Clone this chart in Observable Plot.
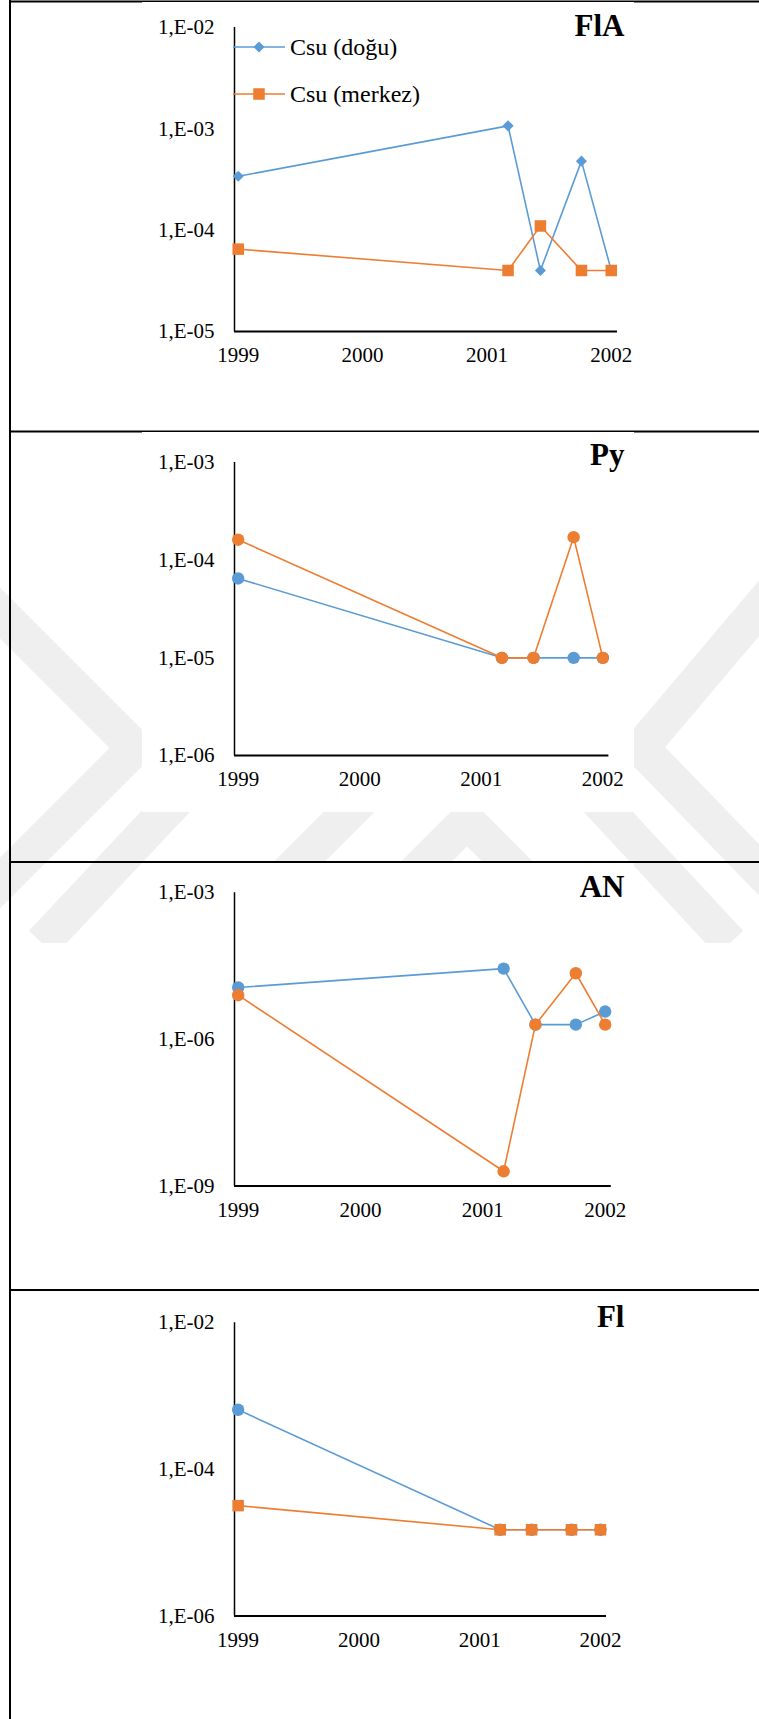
<!DOCTYPE html>
<html>
<head>
<meta charset="utf-8">
<script src="https://cdn.jsdelivr.net/npm/d3@7"></script>
<script src="https://cdn.jsdelivr.net/npm/@observablehq/plot@0.6"></script>
<style>
  html, body { margin: 0; padding: 0; background: #fff; }
  #page {
    position: relative; width: 759px; height: 1719px; overflow: hidden;
    font-family: "Liberation Serif", "Times New Roman", serif; color: #000;
  }
  #page > svg.backdrop { position: absolute; left: 0; top: 0; }
  .panel { position: absolute; left: 142px; width: 492px; height: 380px; background: #fff; }
  .panel svg { display: block; }
  .legend { position: absolute; font-size: 24px; line-height: 1; white-space: nowrap; }
  .legend .row { position: absolute; left: 0; height: 24px; display: flex; align-items: center; }
  .legend .row svg { display: block; margin-right: 5px; }
</style>
</head>
<body>
<div id="page"></div>
<script>
// Sampling dates (decimal years) shared by every panel
const sampleYears = [1999, 2001.17, 2001.43, 2001.76, 2002];
const yearTicks = [1999, 2000, 2001, 2002];
const seriesNames = ["Csu (doğu)", "Csu (merkez)"];
const seriesColors = ["#5B9BD5", "#ED7D31"];

// FlA
const flaDogu   = [3.4e-4, 1.07e-3, 4.0e-5, 4.8e-4, 4.0e-5];
const flaMerkez = [6.5e-5, 4.0e-5, 1.1e-4, 4.0e-5, 4.0e-5];
const flaTicks  = [1e-2, 1e-3, 1e-4, 1e-5];
// Py
const pyDogu    = [6.5e-5, 1.0e-5, 1.0e-5, 1.0e-5, 1.0e-5];
const pyMerkez  = [1.62e-4, 1.0e-5, 1.0e-5, 1.72e-4, 1.0e-5];
const pyTicks   = [1e-3, 1e-4, 1e-5, 1e-6];
// AN
const anDogu    = [1.15e-5, 2.8e-5, 2.0e-6, 2.0e-6, 3.7e-6];
const anMerkez  = [8.0e-6, 2.0e-9, 2.0e-6, 2.25e-5, 2.0e-6];
const anTicks   = [1e-3, 1e-6, 1e-9];
// Fl
const flDogu    = [6.5e-4, 1.5e-5, 1.5e-5, 1.5e-5, 1.5e-5];
const flMerkez  = [3.2e-5, 1.5e-5, 1.5e-5, 1.5e-5, 1.5e-5];
const flTicks   = [1e-2, 1e-4, 1e-6];

const panelTitles = ["FlA", "Py", "AN", "Fl"];

// Layout of each table cell (page pixels)
const panels = [
  { title: panelTitles[0], dogu: flaDogu, merkez: flaMerkez, ticks: flaTicks,
    top: 2, frameTop: 27, frameBottom: 331, frameRight: 617, symbols: ["diamond2", "square"], titleDy: -1.5, legend: true },
  { title: panelTitles[1], dogu: pyDogu, merkez: pyMerkez, ticks: pyTicks,
    top: 432, frameTop: 462, frameBottom: 755, frameRight: 608.4, symbols: ["circle", "circle"], titleDy: -7 },
  { title: panelTitles[2], dogu: anDogu, merkez: anMerkez, ticks: anTicks,
    top: 862.5, frameTop: 891.7, frameBottom: 1185, frameRight: 610.8, symbols: ["circle", "circle"], titleDy: -6 },
  { title: panelTitles[3], dogu: flDogu, merkez: flMerkez, ticks: flTicks,
    top: 1290.5, frameTop: 1321.7, frameBottom: 1615, frameRight: 606, symbols: ["circle", "square"], titleDy: -6 }
];

const symbolRadius = { circle: 6.2, square: 6.5, diamond2: 5.0 };
const panelLeft = 142, panelWidth = 492, panelHeight = 380, axisX = 234, titleRight = 624;
const xDomain = [1998.97, 2002.05];

const page = document.getElementById("page");

// Backdrop: faint page watermark and the table rules
const backdrop = d3.select(page).append("svg")
  .attr("class", "backdrop").attr("width", 759).attr("height", 1719);
backdrop.append("defs").append("clipPath").attr("id", "wmclip")
  .append("rect").attr("x", 0).attr("y", 573).attr("width", 759).attr("height", 370);
const wmBands = [
  [[42, 943], [388, 575], [730, 943]],
  [[-40, 573], [135, 748], [-60, 943]],
  [[800, 560], [641, 748], [830, 943]],
  [[345, 943], [467, 821], [589, 943]],
  [[400, 761], [218, 943]]
];
backdrop.append("g").attr("clip-path", "url(#wmclip)")
  .selectAll("path").data(wmBands).join("path")
  .attr("d", d3.line())
  .attr("fill", "none").attr("stroke", "#efefef").attr("stroke-width", 36)
  .attr("stroke-linejoin", "miter");
const rules = backdrop.append("g").attr("stroke", "#000").attr("stroke-width", 2);
rules.append("line").attr("x1", 10).attr("x2", 10).attr("y1", 0).attr("y2", 1719);
[1.5, 431.5, 862, 1290].forEach(y =>
  rules.append("line").attr("x1", 9).attr("x2", 759).attr("y1", y).attr("y2", y));

const fmtE = d => "1,E-" + String(-Math.round(Math.log10(d))).padStart(2, "0");

panels.forEach(p => {
  const rows = [];
  sampleYears.forEach((year, i) => {
    rows.push({ series: seriesNames[0], year, value: p.dogu[i] });
  });
  sampleYears.forEach((year, i) => {
    rows.push({ series: seriesNames[1], year, value: p.merkez[i] });
  });
  const yDomain = [d3.min(p.ticks), d3.max(p.ticks)];
  const marks = [
    Plot.axisY({ ticks: p.ticks, tickSize: 0, tickPadding: 20, tickFormat: fmtE, label: null, fontSize: 21 }),
    Plot.axisX({ ticks: yearTicks, tickSize: 0, tickPadding: 16, tickFormat: d => String(d), label: null, fontSize: 21 }),
    Plot.ruleX([xDomain[0]], { stroke: "#000", strokeWidth: 1.5 }),
    Plot.ruleY([yDomain[0]], { stroke: "#000", strokeWidth: 2 })
  ];
  seriesNames.forEach((name, k) => {
    const data = rows.filter(r => r.series === name);
    const sym = p.symbols[k];
    marks.push(
      Plot.line(data, { x: "year", y: "value", stroke: seriesColors[k], strokeWidth: 1.6 }),
      Plot.dot(data, { x: "year", y: "value", symbol: sym, r: symbolRadius[sym], fill: seriesColors[k], stroke: "none" })
    );
  });
  marks.push(Plot.text([p.title], {
    frameAnchor: "top-right", text: d => d, textAnchor: "end", lineAnchor: "middle",
    dx: titleRight - p.frameRight, dy: p.titleDy, fontSize: 31, fontWeight: "bold", fill: "#000"
  }));

  const chart = Plot.plot({
    width: panelWidth,
    height: panelHeight,
    marginLeft: axisX - panelLeft,
    marginRight: panelLeft + panelWidth - p.frameRight,
    marginTop: p.frameTop - p.top,
    marginBottom: p.top + panelHeight - p.frameBottom,
    style: { fontFamily: '"Liberation Serif", "Times New Roman", serif', fontSize: "21px", background: "transparent", color: "#000", overflow: "visible" },
    x: { type: "linear", domain: xDomain },
    y: { type: "log", domain: yDomain },
    marks
  });

  const div = document.createElement("div");
  div.className = "panel";
  div.style.top = p.top + "px";
  div.appendChild(chart);
  page.appendChild(div);

  if (p.legend) {
    const leg = document.createElement("div");
    leg.className = "legend";
    leg.style.left = (233 - panelLeft) + "px";
    leg.style.top = "0px";
    const rowCenters = [46.7 - p.top, 94.3 - p.top];
    seriesNames.forEach((name, k) => {
      const row = document.createElement("div");
      row.className = "row";
      row.style.top = (rowCenters[k] - 12) + "px";
      const sw = d3.create("svg").attr("width", 52).attr("height", 24);
      sw.append("line").attr("x1", 0).attr("x2", 52).attr("y1", 12).attr("y2", 12)
        .attr("stroke", seriesColors[k]).attr("stroke-width", 1.6);
      const sym = p.symbols[k] === "diamond2" ? d3.symbolDiamond2 : d3.symbolSquare;
      const r = symbolRadius[p.symbols[k]];
      sw.append("path").attr("transform", "translate(26,12)")
        .attr("d", d3.symbol(sym, Math.PI * r * r)()).attr("fill", seriesColors[k]);
      row.appendChild(sw.node());
      const label = document.createElement("span");
      label.textContent = name;
      row.appendChild(label);
      leg.appendChild(row);
    });
    div.appendChild(leg);
  }
});
</script>
</body>
</html>
